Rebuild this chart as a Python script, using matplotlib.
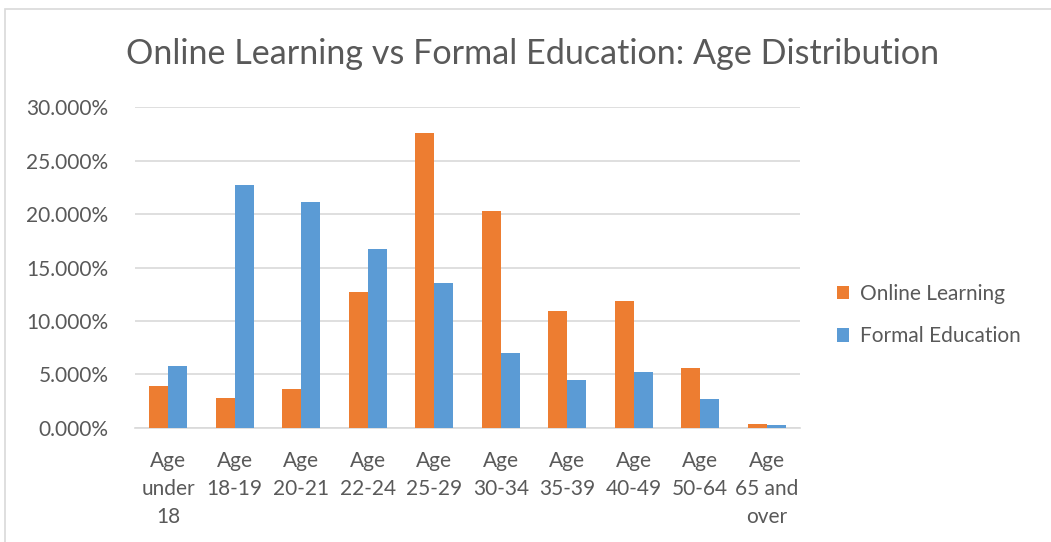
import numpy as np
import matplotlib.pyplot as plt
from matplotlib.patches import Rectangle
from matplotlib.ticker import FuncFormatter

plt.rcParams['font.family'] = ['Lato', 'DejaVu Sans']

categories = ['Age\nunder\n18', 'Age\n18-19', 'Age\n20-21', 'Age\n22-24', 'Age\n25-29',
              'Age\n30-34', 'Age\n35-39', 'Age\n40-49', 'Age\n50-64', 'Age\n65 and\nover']
online = [3.9, 2.75, 3.6, 12.7, 27.55, 20.3, 10.95, 11.86, 5.56, 0.35]
formal = [5.8, 22.75, 21.1, 16.7, 13.55, 7.0, 4.47, 5.25, 2.69, 0.28]
series_names = ['Online Learning', 'Formal Education']

orange = '#ed7d31'
blue = '#5b9bd5'
text_col = '#595959'

W, H = 1051, 542
fig = plt.figure(figsize=(W / 100, H / 100), dpi=100)

# chart border (cropped on right/bottom)
fig.patches.append(Rectangle((5 / W, -0.1), 1.2, 1 - 9 / H + 0.1, transform=fig.transFigure,
                             fill=False, edgecolor='#d9d9d9', linewidth=1.2))

ax = fig.add_axes([135 / W, 1 - 427.7 / H, (800 - 135) / W, (427.7 - 107.3) / H])

x = np.arange(len(categories))
w = 0.285
ax.bar(x - w / 2, online, w, color=orange, label=series_names[0], zorder=3)
ax.bar(x + w / 2, formal, w, color=blue, label=series_names[1], zorder=3)

ax.set_xlim(-0.5, len(categories) - 0.5)
ax.set_ylim(0, 30)
ax.set_yticks(np.arange(0, 31, 5))
ax.yaxis.set_major_formatter(FuncFormatter(lambda v, p: f'{v:.3f}%'))
ax.grid(axis='y', color='#d9d9d9', linewidth=1.2, zorder=0)
for s in ['top', 'right', 'left']:
    ax.spines[s].set_visible(False)
ax.spines['bottom'].set_color('#d9d9d9')
ax.spines['bottom'].set_linewidth(1.2)
ax.tick_params(axis='both', length=0, colors=text_col, labelsize=15)
ax.tick_params(axis='y', pad=19)
ax.set_xticks(x)
ax.set_xticklabels(categories, linespacing=1.5, va='top')
ax.tick_params(axis='x', pad=17)

fig.text(533 / W, 1 - 54 / H, 'Online Learning vs Formal Education: Age Distribution',
         ha='center', va='center', fontsize=24.6, color=text_col)

ax.legend(loc='center left', bbox_to_anchor=(818 / W, 1 - 315 / H), bbox_transform=fig.transFigure,
          frameon=False, fontsize=15, labelcolor=text_col, handlelength=0.6, handleheight=0.6,
          handletextpad=0.5, labelspacing=1.1)

fig.savefig('out.png', dpi=100)
